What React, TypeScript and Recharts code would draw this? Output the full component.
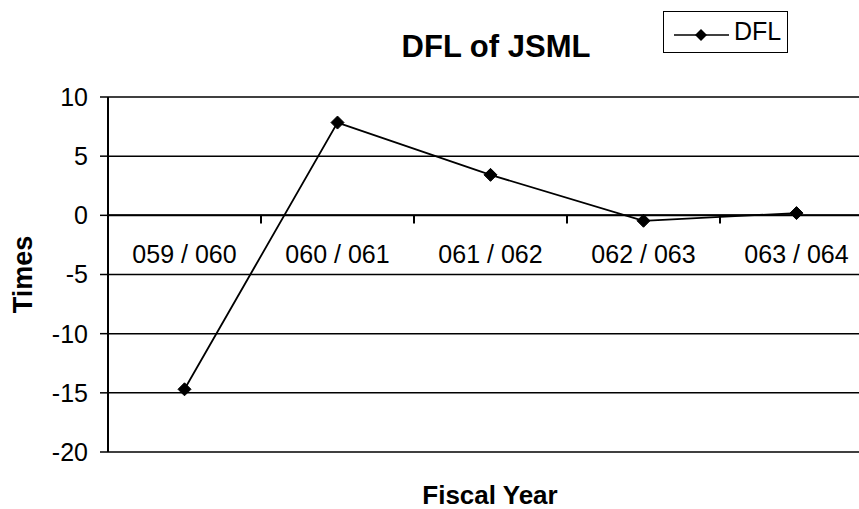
import React from 'react';
import { LineChart, Line, XAxis, YAxis, CartesianGrid, ReferenceLine, ReferenceDot, Legend } from 'recharts';

const categories = ['059 / 060', '060 / 061', '061 / 062', '062 / 063', '063 / 064'];
const dflValues = [-14.7, 7.84, 3.42, -0.46, 0.19];
const yTicks = [-20, -15, -10, -5, 0, 5, 10];
const boundaries = [1, 2, 3, 4];

const data = categories.map((year, i) => ({ year, pos: i + 0.5, DFL: dflValues[i] }));

const FONT = '"Liberation Sans", Arial, sans-serif';

const Diamond = (props: any) => {
  const { cx, cy } = props;
  if (cx == null || cy == null) return null;
  const s = 6.5;
  return (
    <polygon
      key={`d-${cx}-${cy}`}
      points={`${cx},${cy - s} ${cx + s},${cy} ${cx},${cy + s} ${cx - s},${cy}`}
      fill="#000"
      stroke="#000"
    />
  );
};

const LegendBox = () => (
  <div
    style={{
      width: 125,
      height: 42,
      boxSizing: 'border-box',
      border: '1.5px solid #000',
      background: '#fff',
      position: 'relative',
      fontFamily: FONT,
    }}
  >
    <svg width={60} height={42} style={{ position: 'absolute', left: 8, top: -1 }}>
      <line x1={2} y1={24} x2={57} y2={24} stroke="#000" strokeWidth={1.5} />
      <polygon points="29,18 35,24 29,30 23,24" fill="#000" />
    </svg>
    <div style={{ position: 'absolute', left: 70, top: 7, fontSize: 25, lineHeight: '25px', color: '#000' }}>DFL</div>
  </div>
);

export default function App() {
  return (
    <div style={{ position: 'absolute', left: 0, top: 0, width: 859, height: 509, overflow: 'hidden', background: '#fff', fontFamily: FONT }}>
      <LineChart width={880} height={509} data={data} margin={{ top: 97, right: 7, bottom: 57, left: 0 }}>
        <CartesianGrid vertical={false} stroke="#000" strokeWidth={1.5} strokeOpacity={1} />
        <XAxis dataKey="pos" type="number" domain={[0, 5]} hide />
        <YAxis
          domain={[-20, 10]}
          ticks={yTicks}
          width={108}
          interval={0}
          axisLine={{ stroke: '#000', strokeWidth: 2 }}
          tickLine={{ stroke: '#000', strokeWidth: 1.5 }}
          tickSize={8}
          tickMargin={12}
          tick={{ fill: '#000', fontSize: 25, fontFamily: FONT }}
        />
        <ReferenceLine y={0} stroke="#000" strokeWidth={2} />
        {boundaries.map((b) => (
          <ReferenceLine
            key={`t-${b}`}
            segment={[{ x: b, y: 0 }, { x: b, y: -0.68 }]}
            stroke="#000"
            strokeWidth={2}
          />
        ))}
        {data.map((d) => (
          <ReferenceDot
            key={`l-${d.year}`}
            x={d.pos}
            y={0}
            r={0}
            fill="none"
            stroke="none"
            label={{ value: d.year, position: 'bottom', offset: 30, fill: '#000', fontSize: 25, fontFamily: FONT }}
          />
        ))}
        <Legend
          layout="horizontal"
          verticalAlign="middle"
          align="center"
          wrapperStyle={{ position: 'absolute', left: 663, top: 11, width: 125, height: 42 }}
          content={() => <LegendBox />}
        />
        <Line
          type="linear"
          dataKey="DFL"
          stroke="#000"
          strokeWidth={1.8}
          dot={<Diamond />}
          activeDot={false}
          isAnimationActive={false}
        />
      </LineChart>
      <div style={{ position: 'absolute', left: 340, top: 485, width: 300, height: 20, textAlign: 'center', fontSize: 26, lineHeight: '20px', fontWeight: 'bold', color: '#000' }}>
        Fiscal Year
      </div>
      <div style={{ position: 'absolute', left: 346, top: 31, width: 300, textAlign: 'center', fontSize: 31, lineHeight: '31px', fontWeight: 'bold', color: '#000' }}>
        DFL of JSML
      </div>
      <div style={{ position: 'absolute', left: -77.5, top: 261, width: 200, height: 27, textAlign: 'center', fontSize: 27, lineHeight: '27px', fontWeight: 'bold', color: '#000', transform: 'rotate(-90deg)' }}>
        Times
      </div>
    </div>
  );
}
